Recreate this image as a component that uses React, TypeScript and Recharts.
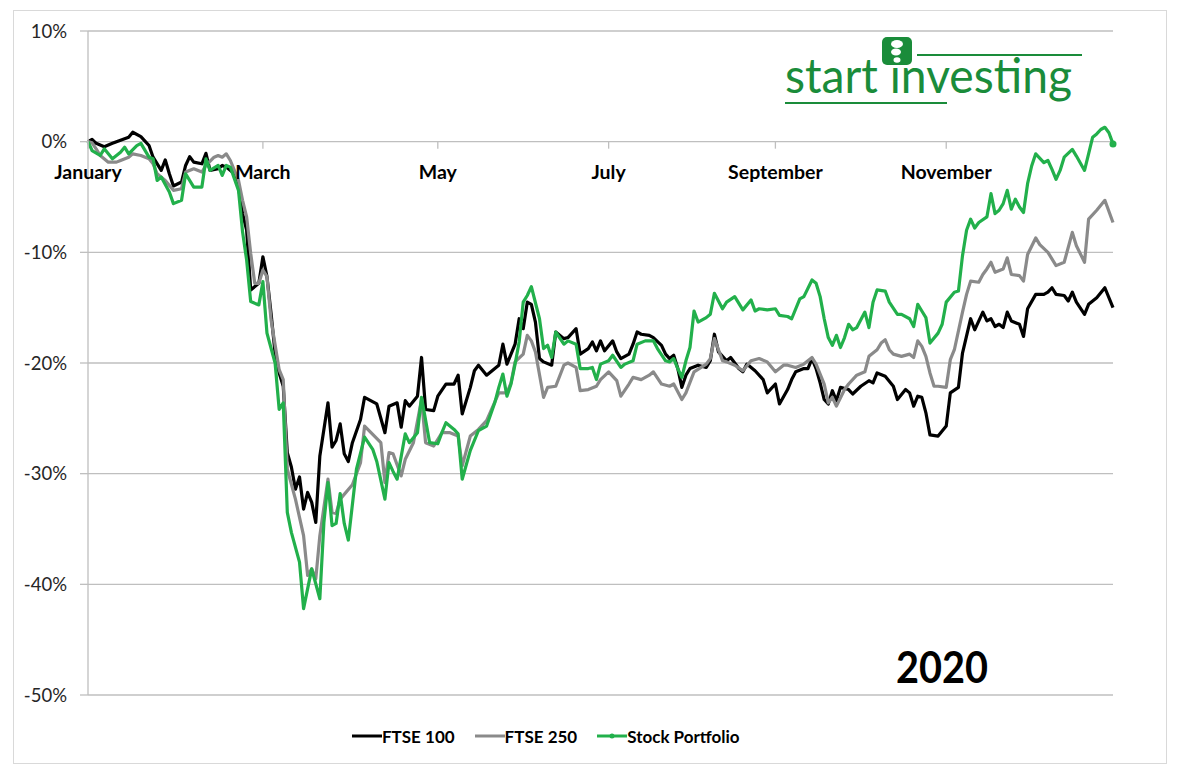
import { LineChart, Line, XAxis, YAxis, CartesianGrid, ReferenceDot, Legend } from "recharts";

// trading day index (0 = 2 Jan 2020) and % change since the start of the year
const ftse100Days = [
  0, 1, 2, 4, 6, 7, 10, 11, 13, 15, 16, 18, 19, 20, 21, 23, 24, 25, 26, 28, 29, 30, 32, 33, 34, 36, 37, 38, 39, 40,
  42, 43, 44, 45, 46, 47, 48, 49, 50, 51, 52, 53, 54, 55, 56, 57, 59, 60, 61, 62, 63, 64, 65, 67, 68, 71, 73, 74, 76, 77,
  78, 79, 81, 82, 83, 85, 86, 88, 90, 91, 92, 94, 95, 96, 98, 101, 102, 103, 104, 105, 106, 107, 108, 109, 110, 111, 112, 114, 115, 117,
  118, 120, 121, 123, 124, 125, 126, 127, 129, 130, 131, 133, 134, 135, 136, 138, 139, 141, 142, 143, 144, 145, 146, 147, 148, 150, 152, 153, 154, 155,
  157, 158, 160, 161, 162, 164, 166, 167, 169, 170, 172, 173, 174, 176, 177, 178, 179, 180, 181, 182, 183, 184, 185, 187, 188, 190, 192, 193, 194, 196,
  198, 199, 201, 202, 203, 204, 205, 206, 207, 209, 211, 212, 214, 215, 217, 218, 220, 221, 222, 223, 224, 225, 226, 227, 229, 230, 231, 233, 235, 236,
  237, 238, 240, 241, 242, 243, 245, 246, 248, 250, 252,
];
const ftse100 = [
  0, 0.2, -0.15, -0.45, -0.15, 0, 0.4, 0.85, 0.45, -0.35, -1.4, -2.6, -1.65, -2.9, -4.0, -3.65, -2.15, -1.35, -1.85, -2.0, -1.05, -2.6, -2.45, -2.15, -2.3, -2.9, -4.1, -6.5, -8.0, -13.4,
  -12.8, -10.4, -12.2, -15.5, -19.1, -20.9, -22.1, -28.1, -29.4, -31.4, -30.3, -33.2, -31.7, -32.6, -34.4, -28.4, -23.6, -27.6, -27.0, -25.5, -28.2, -28.9, -27.2, -25.1, -23.1, -23.7, -26.3, -23.9, -23.6, -25.8,
  -23.4, -23.9, -23.0, -19.5, -24.2, -24.3, -23.0, -21.9, -21.9, -21.1, -24.6, -22.2, -20.7, -20.2, -21.1, -20.2, -18.3, -20.1, -19.2, -18.3, -16.0, -16.9, -14.5, -14.7, -16.3, -19.6, -19.9, -20.2, -17.2, -17.8,
  -17.7, -16.9, -19.2, -18.7, -18.1, -18.9, -18.0, -18.9, -18.0, -19.0, -19.6, -19.2, -18.3, -17.2, -17.4, -17.5, -17.7, -18.4, -19.2, -19.6, -19.3, -20.5, -22.2, -21.1, -20.5, -20.2, -20.4, -19.8, -17.4, -19.0,
  -19.8, -19.5, -20.5, -20.8, -20.1, -20.7, -21.5, -22.7, -21.9, -23.7, -22.4, -21.5, -20.8, -20.5, -20.5, -19.6, -20.5, -21.8, -23.3, -23.7, -22.5, -23.4, -22.2, -22.4, -22.8, -22.1, -21.6, -21.8, -20.9, -21.2,
  -22.1, -23.3, -22.4, -22.7, -23.9, -23.0, -23.1, -24.5, -26.5, -26.6, -25.7, -22.7, -22.2, -19.1, -16.0, -17.0, -15.4, -16.2, -16.0, -16.7, -16.5, -16.8, -15.4, -16.2, -16.5, -17.6, -15.1, -13.8, -13.8, -13.6,
  -13.2, -13.8, -13.9, -14.4, -13.6, -14.5, -15.6, -14.7, -14.1, -13.2, -15.0,
];

const ftse250Days = [
  0, 1, 2, 3, 5, 7, 8, 10, 11, 13, 15, 16, 17, 19, 21, 23, 24, 26, 28, 29, 31, 32, 33, 34, 35, 37, 38, 39, 40, 41,
  42, 43, 44, 45, 47, 48, 49, 51, 53, 54, 55, 56, 57, 59, 60, 61, 62, 65, 67, 68, 72, 73, 74, 75, 77, 78, 80, 82, 83, 85,
  87, 89, 91, 92, 94, 96, 98, 101, 103, 104, 105, 107, 108, 109, 110, 112, 113, 115, 117, 118, 120, 121, 123, 125, 126, 128, 130, 131, 133, 134,
  136, 138, 139, 141, 143, 144, 146, 147, 149, 152, 153, 154, 156, 157, 159, 161, 163, 165, 167, 169, 171, 172, 174, 176, 178, 179, 181, 182, 183, 184,
  186, 187, 189, 191, 192, 194, 195, 196, 197, 198, 200, 202, 203, 204, 205, 206, 207, 208, 209, 211, 212, 213, 215, 216, 217, 219, 220, 221, 222, 223,
  225, 226, 227, 229, 230, 231, 233, 234, 236, 238, 240, 242, 243, 245, 246, 248, 250, 252,
];
const ftse250 = [
  0, -0.1, -0.65, -1.25, -1.85, -1.85, -1.7, -1.4, -1.1, -1.25, -1.55, -2.0, -2.9, -3.5, -4.4, -4.25, -2.75, -2.45, -2.75, -2.15, -1.4, -1.25, -1.4, -1.1, -1.7, -3.5, -5.3, -6.8, -10.1, -12.8,
  -12.8, -11.6, -12.2, -16.1, -20.6, -21.5, -29.6, -32.3, -35.6, -39.2, -38.6, -39.5, -35.6, -30.5, -33.5, -33.6, -32.3, -31.0, -29.0, -25.7, -27.2, -30.8, -28.1, -28.2, -30.2, -28.7, -27.2, -23.3, -27.2, -27.5,
  -26.3, -26.3, -26.6, -29.3, -26.6, -26.0, -25.2, -22.7, -22.7, -21.8, -19.9, -19.2, -17.5, -18.0, -19.0, -23.1, -22.2, -22.1, -20.2, -20.0, -20.4, -22.5, -22.4, -22.1, -21.5, -20.8, -21.6, -23.0, -21.9, -21.3,
  -21.5, -21.1, -20.8, -21.9, -22.1, -21.9, -23.3, -22.7, -20.8, -20.1, -19.6, -17.8, -19.8, -19.9, -20.2, -20.7, -19.8, -19.6, -19.9, -20.8, -20.2, -20.2, -20.4, -20.1, -19.5, -20.1, -21.9, -23.6, -23.1, -23.9,
  -22.4, -21.9, -21.1, -20.8, -19.4, -18.8, -18.2, -17.9, -18.8, -19.2, -19.4, -19.2, -19.5, -18.0, -18.5, -19.4, -20.9, -22.1, -22.1, -22.2, -19.7, -18.8, -15.4, -13.8, -12.6, -12.7, -12.0, -11.5, -10.9, -11.8,
  -11.5, -10.5, -12.0, -12.1, -12.6, -10.2, -8.7, -9.3, -10.0, -11.2, -10.9, -8.2, -9.4, -10.9, -7.0, -6.2, -5.3, -7.3,
];

const portfolioDays = [
  0, 1, 3, 4, 6, 8, 9, 10, 12, 13, 15, 16, 17, 18, 20, 21, 23, 24, 26, 28, 29, 30, 32, 33, 34, 35, 37, 38, 39, 40,
  42, 43, 44, 46, 47, 48, 49, 50, 52, 53, 55, 57, 58, 59, 60, 61, 62, 63, 64, 66, 68, 70, 71, 73, 74, 75, 76, 78, 79, 81,
  82, 84, 86, 87, 88, 90, 91, 92, 94, 96, 98, 100, 101, 102, 103, 104, 105, 106, 107, 108, 109, 111, 112, 113, 114, 115, 117, 118, 120, 121,
  123, 124, 125, 126, 128, 129, 131, 132, 134, 135, 137, 139, 140, 142, 143, 144, 145, 146, 147, 148, 149, 150, 152, 153, 154, 156, 157, 159, 161, 163,
  164, 165, 167, 169, 170, 172, 173, 175, 176, 178, 179, 180, 181, 182, 183, 184, 185, 186, 187, 188, 189, 191, 192, 193, 194, 196, 197, 199, 200, 202,
  203, 204, 205, 206, 207, 209, 210, 211, 213, 214, 215, 216, 217, 218, 219, 221, 222, 223, 224, 225, 226, 227, 228, 229, 230, 231, 232, 233, 235, 236,
  237, 238, 239, 240, 242, 243, 245, 246, 247, 248, 249, 250, 251, 252,
];
const portfolio = [
  0, -0.8, -1.25, -0.65, -1.55, -0.95, -0.5, -1.1, -0.35, -0.15, -1.4, -1.55, -3.5, -3.2, -4.55, -5.6, -5.3, -2.9, -4.1, -4.1, -1.55, -2.6, -2.15, -3.05, -2.15, -2.3, -4.4, -8.15, -10.7, -14.45,
  -14.75, -12.65, -17.3, -20.0, -24.2, -23.6, -33.5, -35.3, -38.0, -42.2, -38.6, -41.3, -34.4, -30.8, -34.7, -34.5, -31.8, -34.5, -36.0, -29.6, -26.7, -27.8, -28.9, -32.3, -29.0, -29.8, -30.5, -26.4, -27.2, -26.3,
  -23.1, -27.2, -27.3, -26.3, -25.4, -26.0, -26.4, -30.5, -27.9, -26.1, -25.7, -23.6, -22.2, -21.0, -23.0, -21.9, -20.1, -18.1, -14.5, -13.9, -13.1, -16.0, -18.7, -18.4, -19.5, -17.2, -18.3, -18.0, -18.3, -20.5,
  -20.5, -20.4, -21.5, -20.1, -19.8, -19.3, -20.4, -20.1, -19.8, -18.3, -18.0, -18.0, -18.7, -19.8, -19.9, -19.6, -20.5, -21.3, -19.8, -18.6, -15.3, -16.3, -15.9, -15.6, -13.7, -15.1, -14.5, -14.0, -15.2, -14.3,
  -15.3, -15.1, -15.2, -15.1, -15.7, -15.8, -16.0, -14.2, -14.0, -12.5, -12.8, -14.0, -16.0, -17.7, -18.4, -17.5, -18.6, -17.7, -16.5, -17.0, -16.8, -15.4, -16.8, -14.5, -13.4, -13.5, -14.5, -15.6, -15.6, -16.0,
  -16.7, -14.7, -15.3, -15.9, -18.2, -17.3, -16.5, -14.5, -13.6, -13.5, -10.3, -8.0, -7.0, -7.8, -7.3, -6.8, -4.7, -6.5, -6.2, -5.6, -4.4, -6.1, -5.2, -5.9, -6.4, -3.8, -2.2, -1.1, -1.9, -1.7,
  -2.5, -3.4, -2.6, -1.4, -0.7, -1.3, -2.6, -1.1, 0.4, 0.7, 1.1, 1.3, 0.8, -0.2,
];

const monthTicks = [0, 43, 86, 128, 169, 211];
const monthLabels = ["January", "March", "May", "July", "September", "November"];
const yTicks = [-50, -40, -30, -20, -10, 0, 10];

const series = [
  { name: "FTSE 100", color: "#000000", days: ftse100Days, values: ftse100, marker: false },
  { name: "FTSE 250", color: "#8a8a8a", days: ftse250Days, values: ftse250, marker: false },
  { name: "Stock Portfolio", color: "#22b04b", days: portfolioDays, values: portfolio, marker: true },
];

const toRows = (days: number[], values: number[]) => days.map((day, i) => ({ day, value: values[i] }));

const LOGO_GREEN = "#1a8c3a";

function MonthTick(props: any) {
  const { cx, cy, label } = props;
  return (
    <g>
      <line x1={cx} y1={cy} x2={cx} y2={cy + 7} stroke="#bfbfbf" strokeWidth={1.3} />
      <text x={cx} y={cy + 37} textAnchor="middle" fontSize={19.5} fontWeight={700} fill="#000">
        {label}
      </text>
    </g>
  );
}

function LegendContent() {
  return (
    <div style={{ display: "flex", alignItems: "center", gap: 20, height: 22, fontSize: 17, fontWeight: 700, color: "#000" }}>
      {series.map((s) => (
        <div key={s.name} style={{ display: "flex", alignItems: "center" }}>
          <svg width={30} height={10}>
            <line x1={0} y1={5} x2={30} y2={5} stroke={s.color} strokeWidth={3} />
            {s.marker && <circle cx={15} cy={5} r={2.5} fill={s.color} />}
          </svg>
          <span>{s.name}</span>
        </div>
      ))}
    </div>
  );
}

function Logo() {
  return (
    <svg width={1178} height={774} style={{ position: "absolute", left: 0, top: 0, pointerEvents: "none" }}>
      <text x={785} y={93} fontSize={48} fill={LOGO_GREEN} textLength={287} lengthAdjust="spacingAndGlyphs">
        start investing
      </text>
      <line x1={785} y1={103} x2={947} y2={103} stroke={LOGO_GREEN} strokeWidth={2} />
      <line x1={917} y1={55} x2={1082} y2={55} stroke={LOGO_GREEN} strokeWidth={2} />
      <rect x={882} y={37} width={30} height={28} rx={5} fill={LOGO_GREEN} />
      <ellipse cx={897} cy={44} rx={6} ry={4} fill="#fff" />
      <ellipse cx={896} cy={52} rx={5} ry={3.5} fill="#fff" />
      <ellipse cx={897} cy={60} rx={3.5} ry={2.8} fill="#fff" />
      <text x={942} y={683} fontSize={44} fontWeight={700} fill="#000" textAnchor="middle" textLength={92} lengthAdjust="spacingAndGlyphs">
        2020
      </text>
    </svg>
  );
}

export default function App() {
  return (
    <div style={{ position: "absolute", left: 0, top: 0, width: 1178, height: 774, background: "#fff", fontFamily: "Lato, 'Open Sans', sans-serif" }}>
      <div style={{ position: "absolute", left: 13, top: 10, width: 1154, height: 754, border: "1px solid #d9d9d9", boxSizing: "border-box" }} />
      <div style={{ position: "absolute", left: 0, top: 0 }}>
        <LineChart width={1178} height={774} margin={{ top: 31, right: 65, bottom: 79, left: 13 }}>
          <CartesianGrid vertical={false} stroke="#bfbfbf" strokeWidth={1.3} />
          <XAxis type="number" dataKey="day" domain={[0, 252]} hide />
          <YAxis
            type="number"
            domain={[-50, 10]}
            ticks={yTicks}
            width={75}
            tickSize={8}
            tickMargin={13}
            tickFormatter={(v) => `${v}%`}
            tick={{ fill: "#262626", fontSize: 18.5 }}
            axisLine={{ stroke: "#bfbfbf", strokeWidth: 1.3 }}
            tickLine={{ stroke: "#bfbfbf", strokeWidth: 1.3 }}
          />
          {monthTicks.map((d, i) => (
            <ReferenceDot key={d} x={d} y={0} r={0} shape={(p: any) => <MonthTick {...p} label={monthLabels[i]} />} />
          ))}
          {series.map((s) => {
            const rows = toRows(s.days, s.values);
            return (
              <Line
                key={s.name}
                name={s.name}
                data={rows}
                dataKey="value"
                type="linear"
                stroke={s.color}
                strokeWidth={3.2}
                strokeLinejoin="round"
                isAnimationActive={false}
                dot={(p: any) =>
                  s.marker && p.index === rows.length - 1 ? (
                    <circle key={p.index} cx={p.cx} cy={p.cy} r={3.5} fill={s.color} />
                  ) : (
                    <g key={p.index} />
                  )
                }
                activeDot={false}
              />
            );
          })}
          <Legend
            verticalAlign="middle"
            align="center"
            content={() => <LegendContent />}
            wrapperStyle={{ left: 352, top: 725, width: "auto", bottom: "auto" }}
          />
        </LineChart>
      </div>
      <Logo />
    </div>
  );
}
